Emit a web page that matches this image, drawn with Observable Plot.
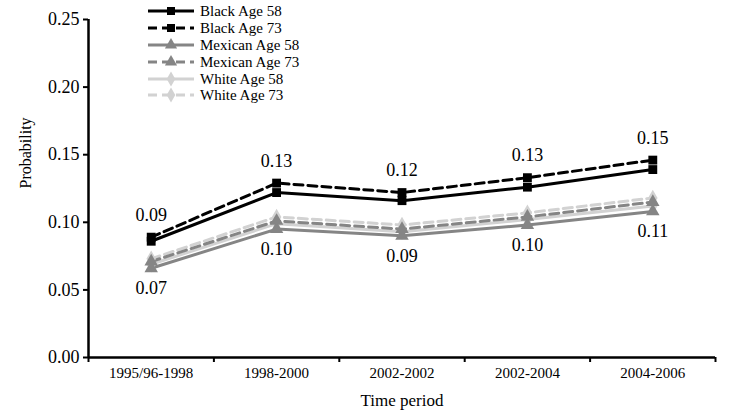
<!DOCTYPE html>
<html>
<head>
<meta charset="utf-8">
<script src="https://cdn.jsdelivr.net/npm/d3@7"></script>
<script src="https://cdn.jsdelivr.net/npm/@observablehq/plot@0.6"></script>
<style>
  html, body { margin: 0; padding: 0; background: white; }
  #wrap { position: relative; width: 729px; height: 417px; font-family: "Liberation Serif", "Times New Roman", serif; }
  #legend { position: absolute; left: 148px; top: 3px; }
  .row { display: flex; align-items: center; height: 16.8px; }
  .row span { font-size: 15px; margin-left: 6px; color: #000; line-height: 16px; }
</style>
</head>
<body>
<div id="wrap"><div id="chart"></div><div id="legend"></div></div>
<script>
const periods = ["1995/96-1998", "1998-2000", "2002-2002", "2002-2004", "2004-2006"];
const black58 = [0.086, 0.122, 0.116, 0.126, 0.139];
const black73 = [0.089, 0.129, 0.122, 0.133, 0.146];
const mexican58 = [0.066, 0.095, 0.090, 0.098, 0.108];
const mexican73 = [0.071, 0.101, 0.095, 0.104, 0.115];
const white58 = [0.069, 0.099, 0.093, 0.102, 0.112];
const white73 = [0.073, 0.104, 0.098, 0.107, 0.118];
const topLabels = ["0.09", "0.13", "0.12", "0.13", "0.15"];
const bottomLabels = ["0.07", "0.10", "0.09", "0.10", "0.11"];
const yTicks = [0, 0.05, 0.10, 0.15, 0.20, 0.25];
const seriesNames = ["Black Age 58", "Black Age 73", "Mexican Age 58", "Mexican Age 73", "White Age 58", "White Age 73"];
const seriesValues = [black58, black73, mexican58, mexican73, white58, white73];

const styles = {
  "Black Age 58": {color: "#000000", dash: null, symbol: "square"},
  "Black Age 73": {color: "#000000", dash: "9,5", symbol: "square"},
  "Mexican Age 58": {color: "#858585", dash: null, symbol: "triangle"},
  "Mexican Age 73": {color: "#858585", dash: "9,5", symbol: "triangle"},
  "White Age 58": {color: "#d2d2d2", dash: null, symbol: "diamond"},
  "White Age 73": {color: "#d2d2d2", dash: "9,5", symbol: "diamond"}
};
const drawOrder = ["White Age 58", "White Age 73", "Mexican Age 58", "Mexican Age 73", "Black Age 58", "Black Age 73"];

const idx = periods.map((p, i) => i);
const bounds = periods.map((p, i) => i - 0.5).concat([periods.length - 0.5]);

const seriesMarks = [];
for (const name of drawOrder) {
  const vals = seriesValues[seriesNames.indexOf(name)];
  const data = idx.map(i => ({i, v: vals[i]}));
  const s = styles[name];
  seriesMarks.push(Plot.line(data, {x: "i", y: "v", stroke: s.color, strokeWidth: 3, strokeDasharray: s.dash}));
}
for (const name of drawOrder) {
  const vals = seriesValues[seriesNames.indexOf(name)];
  const data = idx.map(i => ({i, v: vals[i]}));
  const s = styles[name];
  seriesMarks.push(Plot.dot(data, {x: "i", y: "v", symbol: () => s.symbol, fill: s.color, stroke: "none", r: 5}));
}

const chart = Plot.plot({
  width: 729,
  height: 417,
  marginLeft: 88,
  marginRight: 14,
  marginTop: 19,
  marginBottom: 60,
  style: {fontFamily: "'Liberation Serif', 'Times New Roman', serif", background: "white", color: "black"},
  x: {type: "linear", domain: [-0.5, periods.length - 0.5], axis: null},
  y: {domain: [0, 0.25], axis: null},
  symbol: {type: "identity"},
  marks: [
    Plot.axisY({ticks: yTicks, tickFormat: d3.format(".2f"), tickSize: 5, tickPadding: 4, fontSize: 18, label: null, strokeWidth: 2}),
    Plot.axisX({ticks: bounds, tickFormat: () => "", tickSize: 5, label: null, strokeWidth: 2}),
    Plot.axisX({ticks: idx, tickFormat: i => periods[i], tickSize: 0, tickPadding: 10, fontSize: 15, label: null}),
    Plot.ruleY([0], {stroke: "black", strokeWidth: 2.5}),
    Plot.ruleX([-0.5], {y1: 0, y2: 0.25, stroke: "black", strokeWidth: 2.5}),
    ...seriesMarks,
    Plot.text(idx, {x: i => i, y: i => black73[i], text: i => topLabels[i], dy: -22, fontSize: 18, fill: "black"}),
    Plot.text(idx, {x: i => i, y: i => mexican58[i], text: i => bottomLabels[i], dy: 20, fontSize: 18, fill: "black"}),
    Plot.text(["Time period"], {frameAnchor: "bottom", dy: 48, fontSize: 17, fill: "black"}),
    Plot.text(["Probability"], {frameAnchor: "left", dx: -63, rotate: -90, fontSize: 16, fill: "black"})
  ]
});
document.getElementById("chart").appendChild(chart);

// Legend
const legend = document.getElementById("legend");
const ns = "http://www.w3.org/2000/svg";
const symbolPaths = {
  square: d3.symbol(d3.symbolSquare, 64)(),
  triangle: d3.symbol(d3.symbolTriangle, 64)(),
  diamond: d3.symbol(d3.symbolDiamond, 64)()
};
for (const name of seriesNames) {
  const s = styles[name];
  const row = document.createElement("div");
  row.className = "row";
  const svg = document.createElementNS(ns, "svg");
  svg.setAttribute("width", 46);
  svg.setAttribute("height", 16);
  const line = document.createElementNS(ns, "line");
  line.setAttribute("x1", 0); line.setAttribute("x2", 46);
  line.setAttribute("y1", 8); line.setAttribute("y2", 8);
  line.setAttribute("stroke", s.color); line.setAttribute("stroke-width", 3);
  if (s.dash) line.setAttribute("stroke-dasharray", s.dash);
  svg.appendChild(line);
  const p = document.createElementNS(ns, "path");
  p.setAttribute("d", symbolPaths[s.symbol]);
  p.setAttribute("transform", "translate(23,8)");
  p.setAttribute("fill", s.color);
  svg.appendChild(p);
  row.appendChild(svg);
  const t = document.createElement("span");
  t.textContent = name;
  row.appendChild(t);
  legend.appendChild(row);
}
</script>
</body>
</html>
